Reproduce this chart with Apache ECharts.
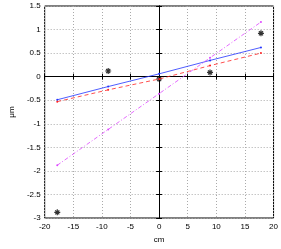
<!DOCTYPE html>
<html><head><meta charset="utf-8">
<script src="https://cdn.jsdelivr.net/npm/echarts@6/dist/echarts.min.js"></script>
<style>html,body{margin:0;padding:0;background:#fff}#c{width:281px;height:249px}</style>
</head><body><div id="c"></div>
<script>
var xs = [-17.8, -8.9, 0, 8.9, 17.8];
var measured = [-2.88, 0.12, -0.05, 0.09, 0.92];
var fitBlue = [-0.49, -0.21, 0.06, 0.345, 0.62];
var fitRed = [-0.53, -0.28, -0.05, 0.235, 0.50];
var fitMagenta = [-1.88, -1.12, -0.36, 0.40, 1.16];
var xTicks = {min: -20, max: 20, step: 5};
var yTicks = {min: -3, max: 1.5, step: 0.5};

function pairs(ys){ return xs.map(function(x,i){ return [x, ys[i]]; }); }
var font = 'Liberation Sans';
var chart = echarts.init(document.getElementById('c'), null, {renderer:'canvas'});
var star = 'path://M5,0 L5,10 M0,5 L10,5 M1.6,1.6 L8.4,8.4 M8.4,1.6 L1.6,8.4';
chart.setOption({
  animation: false,
  grid: {left: 31, right: 7, top: 6, bottom: 22, show: true, borderColor: '#000', borderWidth: 1},
  xAxis: [{
    type: 'value', min: xTicks.min, max: xTicks.max, interval: xTicks.step,
    name: 'cm', nameLocation: 'middle', nameGap: 18,
    nameTextStyle: {fontFamily: font, fontSize: 8, color: '#000'},
    axisLine: {lineStyle: {color: '#000', width: 1}},
    axisTick: {inside: true, length: 3, lineStyle: {color: '#000'}},
    axisLabel: {fontFamily: font, fontSize: 8, color: '#000', margin: 5},
    splitLine: {show: true, lineStyle: {type: [1, 2], color: '#aaa'}}
  }, {
    type: 'value', position: 'top', min: xTicks.min, max: xTicks.max, interval: xTicks.step,
    axisLine: {lineStyle: {color: '#000'}},
    axisTick: {inside: true, length: 3, lineStyle: {color: '#000'}},
    axisLabel: {show: false}, splitLine: {show: false}
  }],
  yAxis: [{
    type: 'value', min: yTicks.min, max: yTicks.max, interval: yTicks.step,
    name: 'μm', nameLocation: 'middle', nameGap: 24,
    nameTextStyle: {fontFamily: font, fontSize: 8, color: '#000'},
    axisLine: {show: true, lineStyle: {color: '#000', width: 1}},
    axisTick: {show: true, inside: true, length: 3, lineStyle: {color: '#000'}},
    axisLabel: {fontFamily: font, fontSize: 8, color: '#000', margin: 4},
    splitLine: {show: true, lineStyle: {type: [1, 2], color: '#aaa'}}
  }, {
    type: 'value', position: 'right', min: yTicks.min, max: yTicks.max, interval: yTicks.step,
    axisLine: {show: true, lineStyle: {color: '#000'}},
    axisTick: {show: true, inside: true, length: 3, lineStyle: {color: '#000'}},
    axisLabel: {show: false}, splitLine: {show: false}
  }],
  series: [
    {type: 'line', data: pairs(fitBlue), symbol: 'circle', symbolSize: 2, showSymbol: true,
     lineStyle: {color: '#2233ff', width: 0.8}, itemStyle: {color: '#2233ff'}},
    {type: 'line', data: pairs(fitRed), symbol: 'circle', symbolSize: 2, showSymbol: true,
     lineStyle: {color: '#ff2222', width: 0.8, type: [4, 3]}, itemStyle: {color: '#ff2222'}},
    {type: 'line', data: pairs(fitMagenta), symbol: 'circle', symbolSize: 2, showSymbol: true,
     lineStyle: {color: '#dd44ff', width: 0.8, type: [4, 2, 1, 2]}, itemStyle: {color: '#dd44ff'}},
    {type: 'scatter', data: pairs(measured), symbol: star, symbolSize: 6,
     itemStyle: {color: 'transparent', borderColor: '#000', borderWidth: 1.2}}
  ]
});
</script></body></html>
